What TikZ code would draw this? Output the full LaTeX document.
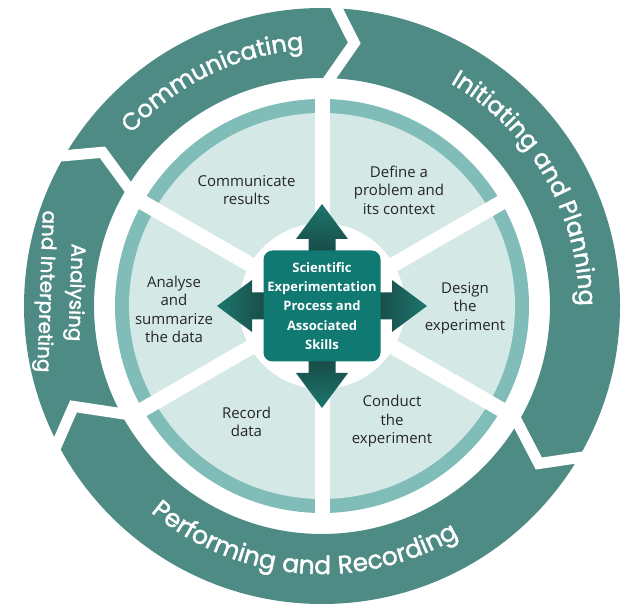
\documentclass[tikz,border=0pt]{standalone}
\usepackage{fontspec}
\setmainfont{Open Sans}
\newfontfamily\ringfont[FakeBold=1.6]{Poppins}
\usetikzlibrary{decorations.text,calc}
\definecolor{ringc}{HTML}{4E8B84}
\definecolor{bordc}{HTML}{80BDB8}
\definecolor{diskc}{HTML}{D4E8E6}
\definecolor{boxc}{HTML}{107A72}
\definecolor{arrdark}{HTML}{173F3C}
\definecolor{arrlight}{HTML}{1C766D}
\definecolor{txtc}{HTML}{262626}
\begin{document}
\begin{tikzpicture}[x=1pt,y=1pt,
  segtext/.style={text=txtc, align=center, inner sep=0pt, font=\fontsize{15}{18.5}\selectfont},
  boxtext/.style={fill=boxc, rounded corners=9pt, minimum width=117pt, minimum height=111pt, text=white, align=center, inner sep=0pt, font=\bfseries\fontsize{13}{19.3}\selectfont},
  chevron/.style={white, line width=11pt, miter limit=20},
  spoke/.style={white, line width=15pt},
  ringlabel/.style={decorate, decoration={text along path, text align=center, text color=white}}
]
\useasboundingbox (0,0) rectangle (631,608);
\coordinate (O) at (322,302);
% outer ring
\fill[ringc, even odd rule] (O) circle[radius=298] (O) circle[radius=228];
% chevron separations
\draw[chevron] ($(O)+(89:316)$) -- ($(O)+(83:265)$) -- ($(O)+(90.5:214)$);
\draw[chevron] ($(O)+(-28:316)$) -- ($(O)+(-36:268)$) -- ($(O)+(-28.5:214)$);
\draw[chevron] ($(O)+(210:316)$) -- ($(O)+(202:268)$) -- ($(O)+(211:214)$);
\draw[chevron] ($(O)+(152:316)$) -- ($(O)+(145:268)$) -- ($(O)+(150:214)$);
% ring labels
\path[ringlabel, decoration={text={|\ringfont\fontsize{24}{28}\selectfont|Communicating}}]
  ($(O)+(150:257)$) arc[start angle=150, end angle=82, radius=257];
\path[ringlabel, decoration={text={|\ringfont\fontsize{24}{28}\selectfont|Initiating and Planning}}]
  ($(O)+(78:257)$) arc[start angle=78, end angle=-18, radius=257];
\path[ringlabel, decoration={text={|\ringfont\addfontfeature{LetterSpace=3}\fontsize{25}{28}\selectfont|Performing and Recording}}]
  ($(O)+(195:268)$) arc[start angle=195, end angle=336, radius=268];
\node[text=white, align=center, inner sep=0pt, rotate=-92, font=\ringfont\fontsize{20}{30}\selectfont] (anlabel) at (60,316) {Analysing\\and Interpreting};
% inner disk
\fill[bordc] (O) circle[radius=207];
\fill[diskc] (O) circle[radius=193];
\foreach \a in {90,30,-30,-90,-150,150} {
  \draw[spoke] (O) -- ($(O)+(\a:214)$);
}
\fill[white] (O) circle[radius=83];
% arrows
\shade[bottom color=arrdark, top color=arrlight]
  ($(O)+(-13.5,40)$) -- ($(O)+(-13.5,67)$) -- ($(O)+(-26,67)$) -- ($(O)+(0,102)$) -- ($(O)+(26,67)$) -- ($(O)+(13.5,67)$) -- ($(O)+(13.5,40)$) -- cycle;
\shade[top color=arrdark, bottom color=arrlight]
  ($(O)+(-13.5,-40)$) -- ($(O)+(-13.5,-67)$) -- ($(O)+(-26,-67)$) -- ($(O)+(0,-102)$) -- ($(O)+(26,-67)$) -- ($(O)+(13.5,-67)$) -- ($(O)+(13.5,-40)$) -- cycle;
\shade[left color=arrdark, right color=arrlight]
  ($(O)+(40,-13.5)$) -- ($(O)+(70,-13.5)$) -- ($(O)+(70,-26)$) -- ($(O)+(105,0)$) -- ($(O)+(70,26)$) -- ($(O)+(70,13.5)$) -- ($(O)+(40,13.5)$) -- cycle;
\shade[right color=arrdark, left color=arrlight]
  ($(O)+(-40,-13.5)$) -- ($(O)+(-70,-13.5)$) -- ($(O)+(-70,-26)$) -- ($(O)+(-105,0)$) -- ($(O)+(-70,26)$) -- ($(O)+(-70,13.5)$) -- ($(O)+(-40,13.5)$) -- cycle;
% center box
\node[boxtext] (box) at (O) {Scientific\\Experimentation\\Process and\\Associated\\Skills};
% segment texts
\node[segtext] (comm) at (246.5,418) {Communicate\\results};
\node[segtext] (define) at (399,418) {Define a\\problem and\\its context};
\node[segtext] (analyse) at (174,298.5) {Analyse\\and\\summarize\\the data};
\node[segtext] (design) at (465,300) {Design\\the\\experiment};
\node[segtext] (record) at (246.5,186) {Record\\data};
\node[segtext] (conduct) at (392,186.5) {Conduct\\the\\experiment};
\end{tikzpicture}
\end{document}
